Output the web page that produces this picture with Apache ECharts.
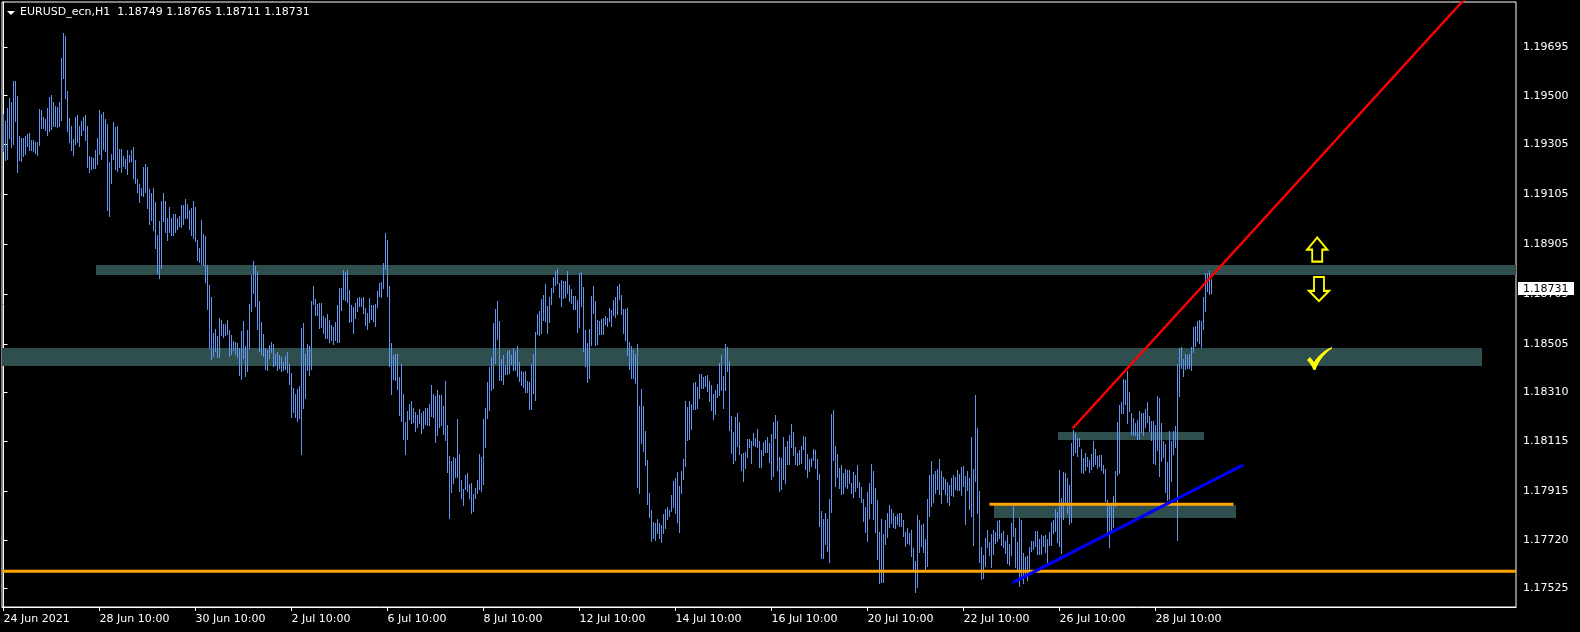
<!DOCTYPE html>
<html>
<head>
<meta charset="utf-8">
<script src="https://cdn.jsdelivr.net/npm/echarts@6/dist/echarts.min.js"></script>
<style>
html,body{margin:0;padding:0;background:#000;}
#chart{width:1580px;height:632px;}
</style>
</head>
<body>
<div id="chart"></div>
<script>
// ---------- DATA ----------
const symbolName = 'EURUSD_ecn,H1';
const lastBar = [1.18749, 1.18765, 1.18711, 1.18731]; // O H L C of last bar

const xTickIdx = [0, 48, 96, 144, 192, 240, 288, 336, 384, 432, 480, 528, 576];
const xTickText = ['24 Jun 2021', '28 Jun 10:00', '30 Jun 10:00', '2 Jul 10:00', '6 Jul 10:00', '8 Jul 10:00',
  '12 Jul 10:00', '14 Jul 10:00', '16 Jul 10:00', '20 Jul 10:00', '22 Jul 10:00', '26 Jul 10:00', '28 Jul 10:00'];
const yTickVals = [1.19695, 1.19500, 1.19305, 1.19105, 1.18905, 1.18705, 1.18505, 1.18310, 1.18115, 1.17915, 1.17720, 1.17525];

const highs = [
1.19425,1.19398,1.19452,1.19490,1.19474,1.19559,1.19559,1.19498,1.19338,1.19329,
1.19331,1.19338,1.19347,1.19349,1.19321,1.19321,1.19314,1.19315,1.19446,1.19441,
1.19414,1.19406,1.19449,1.19494,1.19501,1.19474,1.19458,1.19453,1.19473,1.19651,
1.19751,1.19739,1.19517,1.19410,1.19380,1.19326,1.19416,1.19422,1.19377,1.19398,
1.19413,1.19421,1.19380,1.19258,1.19254,1.19251,1.19282,1.19329,1.19441,1.19425,
1.19433,1.19406,1.19388,1.19235,1.19267,1.19393,1.19376,1.19378,1.19286,1.19286,
1.19259,1.19246,1.19283,1.19263,1.19283,1.19293,1.19242,1.19164,1.19146,1.19131,
1.19213,1.19225,1.19215,1.19127,1.19110,1.19128,1.19075,1.18941,1.18997,1.19078,
1.19111,1.19079,1.19008,1.19052,1.19008,1.19024,1.19027,1.19008,1.19019,1.19060,
1.19060,1.19087,1.19064,1.19040,1.19048,1.19078,1.19054,1.18921,1.18888,1.19003,
1.18944,1.18938,1.18822,1.18741,1.18693,1.18549,1.18565,1.18537,1.18609,1.18601,
1.18585,1.18585,1.18600,1.18560,1.18541,1.18517,1.18513,1.18508,1.18490,1.18557,
1.18597,1.18497,1.18561,1.18665,1.18782,1.18838,1.18818,1.18798,1.18677,1.18593,
1.18545,1.18489,1.18481,1.18501,1.18513,1.18505,1.18465,1.18473,1.18461,1.18453,
1.18433,1.18457,1.18473,1.18425,1.18389,1.18329,1.18305,1.18325,1.18337,1.18569,
1.18589,1.18465,1.18505,1.18497,1.18677,1.18737,1.18685,1.18665,1.18669,1.18669,
1.18617,1.18609,1.18625,1.18601,1.18581,1.18573,1.18593,1.18661,1.18729,1.18729,
1.18802,1.18794,1.18802,1.18721,1.18661,1.18653,1.18669,1.18689,1.18693,1.18689,
1.18693,1.18649,1.18629,1.18689,1.18659,1.18661,1.18665,1.18717,1.18749,1.18753,
1.18830,1.18950,1.18922,1.18737,1.18509,1.18461,1.18465,1.18465,1.18373,1.18425,
1.18305,1.18192,1.18236,1.18264,1.18276,1.18248,1.18232,1.18220,1.18244,1.18228,
1.18236,1.18248,1.18248,1.18264,1.18340,1.18304,1.18296,1.18320,1.18300,1.18300,
1.18256,1.18356,1.18180,1.18055,1.18035,1.18051,1.18047,1.18204,1.18063,1.17959,
1.17923,1.17979,1.17987,1.17943,1.17947,1.17903,1.17927,1.17959,1.18063,1.18051,
1.18204,1.18248,1.18352,1.18412,1.18452,1.18588,1.18645,1.18677,1.18596,1.18444,
1.18460,1.18420,1.18476,1.18480,1.18460,1.18488,1.18476,1.18496,1.18432,1.18396,
1.18392,1.18396,1.18356,1.18352,1.18424,1.18464,1.18552,1.18625,1.18637,1.18685,
1.18701,1.18745,1.18657,1.18693,1.18729,1.18773,1.18797,1.18805,1.18749,1.18761,
1.18757,1.18757,1.18797,1.18741,1.18725,1.18697,1.18697,1.18681,1.18789,1.18793,
1.18733,1.18560,1.18508,1.18564,1.18697,1.18737,1.18677,1.18600,1.18596,1.18604,
1.18608,1.18617,1.18609,1.18649,1.18641,1.18681,1.18693,1.18737,1.18745,1.18701,
1.18645,1.18645,1.18649,1.18512,1.18496,1.18480,1.18464,1.18504,1.18256,1.18324,
1.18256,1.18156,1.18039,1.17907,1.17839,1.17791,1.17787,1.17803,1.17787,1.17779,
1.17823,1.17843,1.17851,1.17839,1.17899,1.17955,1.17967,1.17991,1.17935,1.17995,
1.18043,1.18276,1.18252,1.18276,1.18264,1.18348,1.18352,1.18332,1.18384,1.18384,
1.18372,1.18376,1.18380,1.18356,1.18340,1.18304,1.18320,1.18344,1.18428,1.18460,
1.18376,1.18504,1.18492,1.18436,1.18216,1.18152,1.18212,1.18228,1.18192,1.18064,
1.18068,1.18072,1.18124,1.18124,1.18116,1.18148,1.18128,1.18164,1.18116,1.18080,
1.18112,1.18120,1.18132,1.18108,1.18144,1.18192,1.18220,1.18196,1.18052,1.18048,
1.18132,1.18092,1.18116,1.18140,1.18184,1.18152,1.18092,1.18068,1.18080,1.18096,
1.18136,1.18132,1.18063,1.18043,1.18047,1.18083,1.18079,1.18043,1.17983,1.17835,
1.17803,1.17827,1.17803,1.17883,1.18224,1.18240,1.18096,1.18063,1.18007,1.18019,
1.17987,1.18003,1.17999,1.17999,1.17947,1.17991,1.17979,1.18019,1.17951,1.17931,
1.17883,1.17851,1.17911,1.17947,1.18023,1.17995,1.17927,1.17879,1.17751,1.17803,
1.17743,1.17799,1.17827,1.17859,1.17843,1.17827,1.17815,1.17823,1.17827,1.17827,
1.17799,1.17751,1.17767,1.17747,1.17759,1.17687,1.17635,1.17819,1.17799,1.17779,
1.17783,1.17723,1.17883,1.17979,1.18035,1.17983,1.17995,1.18003,1.18043,1.17995,
1.17971,1.17963,1.17951,1.17939,1.17967,1.17979,1.17971,1.17999,1.17983,1.18011,
1.18015,1.17975,1.17995,1.17967,1.18132,1.18003,1.18300,1.18168,1.17915,1.17691,
1.17659,1.17727,1.17759,1.17711,1.17743,1.17759,1.17751,1.17795,1.17799,1.17747,
1.17755,1.17715,1.17739,1.17703,1.17787,1.17855,1.17767,1.17711,1.17807,1.17799,
1.17667,1.17651,1.17655,1.17691,1.17715,1.17715,1.17755,1.17755,1.17723,1.17739,
1.17735,1.17739,1.17723,1.17751,1.17791,1.17799,1.17843,1.17831,1.17999,1.17887,
1.17992,1.17988,1.17968,1.17940,1.18108,1.18160,1.18148,1.18128,1.18128,1.18084,
1.18048,1.18068,1.18052,1.18040,1.18064,1.18116,1.18084,1.18056,1.18060,1.18060,
1.18020,1.18004,1.17879,1.17863,1.17855,1.17895,1.17996,1.18192,1.18260,1.18272,
1.18364,1.18360,1.18396,1.18312,1.18228,1.18208,1.18188,1.18200,1.18236,1.18228,
1.18228,1.18244,1.18272,1.18216,1.18196,1.18196,1.18180,1.18296,1.18288,1.18188,
1.18116,1.18104,1.18032,1.18156,1.18116,1.18156,1.18176,1.18425,1.18489,1.18493,
1.18445,1.18465,1.18461,1.18465,1.18493,1.18573,1.18577,1.18597,1.18601,1.18597,
1.18693,1.18789,1.18789,1.18797,1.18765
];

const lows = [
1.19278,1.19243,1.19247,1.19331,1.19293,1.19307,1.19398,1.19195,1.19242,1.19238,
1.19259,1.19266,1.19297,1.19283,1.19281,1.19277,1.19270,1.19263,1.19302,1.19372,
1.19370,1.19361,1.19342,1.19358,1.19366,1.19378,1.19377,1.19374,1.19380,1.19402,
1.19569,1.19492,1.19360,1.19315,1.19283,1.19261,1.19305,1.19315,1.19299,1.19342,
1.19364,1.19321,1.19215,1.19195,1.19206,1.19211,1.19211,1.19225,1.19267,1.19246,
1.19287,1.19278,1.19043,1.19019,1.19151,1.19246,1.19206,1.19197,1.19213,1.19193,
1.19217,1.19211,1.19187,1.19233,1.19237,1.19171,1.19150,1.19115,1.19072,1.19100,
1.19096,1.19114,1.19051,1.18987,1.19000,1.18963,1.18891,1.18789,1.18770,1.18808,
1.18999,1.18955,1.18921,1.18953,1.18941,1.18941,1.18955,1.18965,1.18977,1.18973,
1.18987,1.19008,1.19011,1.18965,1.18941,1.18928,1.18917,1.18841,1.18834,1.18824,
1.18821,1.18755,1.18645,1.18488,1.18445,1.18458,1.18477,1.18453,1.18453,1.18540,
1.18533,1.18541,1.18546,1.18458,1.18466,1.18482,1.18464,1.18453,1.18381,1.18366,
1.18448,1.18377,1.18398,1.18488,1.18637,1.18709,1.18657,1.18565,1.18477,1.18465,
1.18458,1.18405,1.18401,1.18449,1.18473,1.18417,1.18421,1.18402,1.18407,1.18397,
1.18401,1.18405,1.18394,1.18345,1.18212,1.18232,1.18212,1.18198,1.18207,1.18064,
1.18248,1.18288,1.18401,1.18381,1.18405,1.18665,1.18621,1.18621,1.18569,1.18573,
1.18549,1.18529,1.18528,1.18514,1.18521,1.18506,1.18521,1.18514,1.18514,1.18641,
1.18685,1.18681,1.18673,1.18593,1.18597,1.18549,1.18609,1.18637,1.18657,1.18657,
1.18629,1.18581,1.18565,1.18593,1.18605,1.18597,1.18577,1.18651,1.18699,1.18693,
1.18729,1.18806,1.18697,1.18417,1.18305,1.18365,1.18361,1.18325,1.18220,1.18196,
1.18124,1.18063,1.18124,1.18206,1.18188,1.18192,1.18156,1.18172,1.18188,1.18148,
1.18169,1.18184,1.18180,1.18180,1.18216,1.18212,1.18112,1.18140,1.18172,1.18180,
1.18144,1.18120,1.17991,1.17807,1.17911,1.17947,1.17971,1.17971,1.17915,1.17887,
1.17859,1.17923,1.17915,1.17887,1.17827,1.17835,1.17888,1.17907,1.17923,1.17915,
1.17943,1.18091,1.18208,1.18240,1.18320,1.18328,1.18428,1.18524,1.18360,1.18360,
1.18344,1.18384,1.18384,1.18388,1.18424,1.18400,1.18400,1.18376,1.18356,1.18340,
1.18332,1.18312,1.18312,1.18244,1.18244,1.18308,1.18280,1.18544,1.18540,1.18548,
1.18600,1.18596,1.18548,1.18592,1.18665,1.18713,1.18741,1.18749,1.18693,1.18657,
1.18689,1.18693,1.18709,1.18677,1.18669,1.18645,1.18645,1.18552,1.18572,1.18657,
1.18476,1.18416,1.18352,1.18368,1.18500,1.18628,1.18500,1.18504,1.18544,1.18544,
1.18544,1.18585,1.18577,1.18597,1.18577,1.18621,1.18613,1.18625,1.18685,1.18625,
1.18549,1.18520,1.18460,1.18404,1.18368,1.18368,1.18348,1.17931,1.17907,1.18108,
1.18076,1.18019,1.17863,1.17811,1.17715,1.17727,1.17719,1.17747,1.17729,1.17711,
1.17747,1.17767,1.17803,1.17815,1.17835,1.17851,1.17827,1.17791,1.17751,1.17907,
1.17963,1.18015,1.18120,1.18124,1.18164,1.18244,1.18244,1.18248,1.18288,1.18328,
1.18328,1.18336,1.18316,1.18276,1.18240,1.18204,1.18224,1.18292,1.18300,1.18320,
1.18248,1.18320,1.18396,1.18160,1.18068,1.18027,1.18039,1.18096,1.18064,1.17999,
1.17955,1.18007,1.18052,1.18092,1.18027,1.18100,1.18096,1.18092,1.18011,1.18011,
1.18060,1.18072,1.18072,1.18031,1.17963,1.17975,1.18128,1.17999,1.17915,1.17923,
1.17963,1.17947,1.18023,1.18023,1.18092,1.18060,1.18023,1.18019,1.18023,1.18027,
1.18084,1.18003,1.17971,1.17995,1.18015,1.18039,1.18007,1.17963,1.17775,1.17647,
1.17647,1.17703,1.17675,1.17631,1.17831,1.18039,1.17935,1.17971,1.17927,1.17903,
1.17907,1.17935,1.17927,1.17947,1.17907,1.17891,1.17915,1.17931,1.17891,1.17871,
1.17795,1.17751,1.17715,1.17807,1.17867,1.17803,1.17751,1.17643,1.17546,1.17550,
1.17550,1.17703,1.17731,1.17771,1.17787,1.17771,1.17767,1.17783,1.17775,1.17775,
1.17735,1.17695,1.17707,1.17703,1.17655,1.17599,1.17510,1.17530,1.17671,1.17695,
1.17671,1.17599,1.17615,1.17815,1.17855,1.17871,1.17907,1.17923,1.17903,1.17867,
1.17923,1.17903,1.17871,1.17859,1.17899,1.17895,1.17923,1.17919,1.17919,1.17899,
1.17935,1.17783,1.17919,1.17843,1.17815,1.17699,1.17955,1.17827,1.17631,1.17562,
1.17566,1.17615,1.17691,1.17659,1.17611,1.17663,1.17707,1.17715,1.17727,1.17699,
1.17691,1.17666,1.17626,1.17619,1.17658,1.17737,1.17611,1.17604,1.17536,1.17571,
1.17548,1.17575,1.17559,1.17595,1.17675,1.17683,1.17695,1.17663,1.17663,1.17663,
1.17695,1.17672,1.17631,1.17699,1.17700,1.17746,1.17755,1.17711,1.17695,1.17666,
1.17805,1.17869,1.17826,1.17783,1.17791,1.18060,1.18072,1.18056,1.18096,1.17990,
1.17986,1.18000,1.18016,1.17990,1.18004,1.18016,1.18024,1.18008,1.18014,1.18000,
1.17986,1.17875,1.17750,1.17692,1.17748,1.17772,1.17855,1.17980,1.17988,1.18227,
1.18229,1.18266,1.18187,1.18236,1.18144,1.18140,1.18141,1.18124,1.18124,1.18152,
1.18139,1.18173,1.18191,1.18156,1.18120,1.18028,1.18024,1.18080,1.17976,1.18036,
1.18052,1.17912,1.17878,1.17882,1.17956,1.18064,1.18092,1.17718,1.18296,1.18407,
1.18376,1.18406,1.18409,1.18409,1.18401,1.18471,1.18497,1.18517,1.18507,1.18494,
1.18564,1.18637,1.18717,1.18705,1.18711
];

// Chart objects: [barIndexFrom, barIndexTo, priceTop, priceBottom]
const zoneUpper  = [46, 800, 1.18821, 1.18781];
const zoneMiddle = [-10, 739, 1.18490, 1.18418];
const zoneSmall  = [527, 600, 1.18152, 1.18121];
const zoneLower  = [495, 616, 1.17858, 1.17808];
// Lines: horizontal level price; trend lines as [[barIndex, price], [barIndex, price]]
const supportLevel = 1.17594;
const orangeTrend = [[493, 1.17862], [615, 1.17862]];
const blueTrend   = [[504.6, 1.17548], [619.9, 1.18020]];
const redTrend    = [[534.6, 1.18167], [629.6, 1.19001]]; // ray
// Arrow objects [barIndex, price]
const arrowUp    = [656.85, 1.18883];
const arrowDown  = [657.75, 1.18725];
const checkMark  = [658, 1.18447];

// ---------- LAYOUT / STYLE ----------
const Y_MIN = 1.174505, Y_MAX = 1.198754;
const X_MIN = -0.75, X_MAX = 756.25;
const FONT = 'DejaVu Sans';
const BAR_COLOR = '#6495ED';

const chart = echarts.init(document.getElementById('chart'), null, {renderer: 'canvas'});

const barData = highs.map((h, i) => [i, lows[i], h]);
const zones = [zoneUpper, zoneMiddle, zoneSmall, zoneLower];

function rayEnd(seg, xEnd) {
  const [[x1, y1], [x2, y2]] = seg;
  const k = (y2 - y1) / (x2 - x1);
  return [[x1, y1], [xEnd, y1 + k * (xEnd - x1)]];
}

const option = {
  backgroundColor: '#000',
  animation: false,
  title: {
    text: symbolName + '  ' + lastBar.map(v => v.toFixed(5)).join(' '),
    left: 20, top: 7, padding: 0,
    textStyle: {color: '#fff', fontSize: 11, fontFamily: FONT, fontWeight: 'normal'}
  },
  graphic: [{
    type: 'polygon', shape: {points: [[7, 11], [15, 11], [11, 15]]}, style: {fill: '#fff'}
  }],
  grid: {left: 2, top: 2, right: 64, bottom: 25, show: true, borderColor: '#fff', borderWidth: 1, backgroundColor: 'transparent'},
  xAxis: {
    type: 'value', min: X_MIN, max: X_MAX,
    axisLine: {show: true, lineStyle: {color: '#fff', width: 1}},
    splitLine: {show: false},
    axisTick: {show: true, customValues: xTickIdx, length: 4, lineStyle: {color: '#fff'}},
    axisLabel: {
      customValues: xTickIdx, color: '#fff', fontSize: 11, fontFamily: FONT, align: 'left', margin: 7,
      formatter: v => xTickText[xTickIdx.indexOf(Math.round(v))] || ''
    }
  },
  yAxis: {
    type: 'value', position: 'right', min: Y_MIN, max: Y_MAX,
    axisLine: {show: true, lineStyle: {color: '#fff', width: 1}},
    splitLine: {show: false},
    axisTick: {show: true, customValues: yTickVals, length: 4, lineStyle: {color: '#fff'}},
    axisLabel: {
      customValues: yTickVals, color: '#fff', fontSize: 11, fontFamily: FONT, margin: 7,
      formatter: v => v.toFixed(5)
    }
  },
  series: [
    {
      type: 'custom', name: 'zones', z: 1, clip: true, silent: true,
      data: zones,
      encode: {x: [0, 1], y: [2, 3]},
      renderItem: function (params, api) {
        const p1 = api.coord([api.value(0), api.value(2)]);
        const p2 = api.coord([api.value(1), api.value(3)]);
        const cs = params.coordSys;
        const shape = echarts.graphic.clipRectByRect(
          {x: Math.round(p1[0]), y: Math.round(p1[1]), width: Math.round(p2[0]) - Math.round(p1[0]), height: Math.round(p2[1]) - Math.round(p1[1])},
          {x: cs.x, y: cs.y, width: cs.width, height: cs.height});
        return shape && {type: 'rect', shape: shape, style: {fill: '#2F4F4F'}};
      }
    },
    {
      type: 'custom', name: 'bars', z: 2, clip: true, silent: true,
      data: barData,
      encode: {x: 0, y: [1, 2]},
      renderItem: function (params, api) {
        const i = api.value(0);
        const top = api.coord([i, api.value(2)]);
        const bot = api.coord([i, api.value(1)]);
        const x = Math.floor(top[0]) + 0.5;
        return {type: 'line', shape: {x1: x, y1: Math.round(top[1]), x2: x, y2: Math.round(bot[1]) + 1},
          style: {stroke: BAR_COLOR, lineWidth: 1}};
      }
    },
    {
      type: 'line', name: 'support', z: 3, clip: true, silent: true, showSymbol: false,
      data: [[X_MIN, supportLevel], [X_MAX, supportLevel]],
      lineStyle: {color: '#FFA500', width: 3}
    },
    {
      type: 'line', name: 'orange trend', z: 3, clip: true, silent: true, showSymbol: false,
      data: orangeTrend,
      lineStyle: {color: '#FFA500', width: 3}
    },
    {
      type: 'line', name: 'blue trend', z: 3, clip: true, silent: true, showSymbol: false,
      data: blueTrend,
      lineStyle: {color: '#0000FF', width: 3}
    },
    {
      type: 'line', name: 'red trend', z: 3, clip: true, silent: true, showSymbol: false,
      data: rayEnd(redTrend, X_MAX),
      lineStyle: {color: '#FF0000', width: 2.4}
    },
    {
      type: 'scatter', name: 'arrow up', z: 4, silent: true,
      data: [arrowUp],
      symbol: 'path://M11,0 L22,13 L16.5,13 L16.5,26 L5.5,26 L5.5,13 L0,13 Z',
      symbolSize: [20, 24],
      itemStyle: {color: '#000', borderColor: '#FFFF00', borderWidth: 2, opacity: 1}
    },
    {
      type: 'scatter', name: 'arrow down', z: 4, silent: true,
      data: [arrowDown],
      symbol: 'path://M5.5,0 L16.5,0 L16.5,15 L22,15 L11,26 L0,15 L5.5,15 Z',
      symbolSize: [20, 24],
      itemStyle: {color: '#000', borderColor: '#FFFF00', borderWidth: 2, opacity: 1}
    },
    {
      type: 'scatter', name: 'check', z: 4, silent: true,
      data: [checkMark],
      symbol: 'path://M0,13 L3,10 L7,15 C11,9 17,3 25,0 L25,1.5 C19,5 12,13 8.5,23 L6.5,23 C5,19 3,16 0,13 Z',
      symbolSize: [25, 23],
      itemStyle: {color: '#FFFF00', opacity: 1}
    },
    {
      type: 'custom', name: 'price label', z: 10, clip: false, silent: true,
      data: [[lastBar[3]]],
      encode: {y: 0},
      renderItem: function (params, api) {
        const cs = params.coordSys;
        const p = api.coord([X_MAX, api.value(0)]);
        const y = Math.round(p[1]);
        return {
          type: 'group',
          children: [
            {type: 'rect', shape: {x: cs.x + cs.width + 2, y: y - 6, width: 56, height: 13}, style: {fill: '#fff'}},
            {type: 'text', style: {text: api.value(0).toFixed(5), x: cs.x + cs.width + 7, y: y + 1,
              fill: '#000', font: '11px "DejaVu Sans"', verticalAlign: 'middle', align: 'left'}}
          ]
        };
      }
    }
  ]
};
chart.setOption(option);
</script>
</body>
</html>
